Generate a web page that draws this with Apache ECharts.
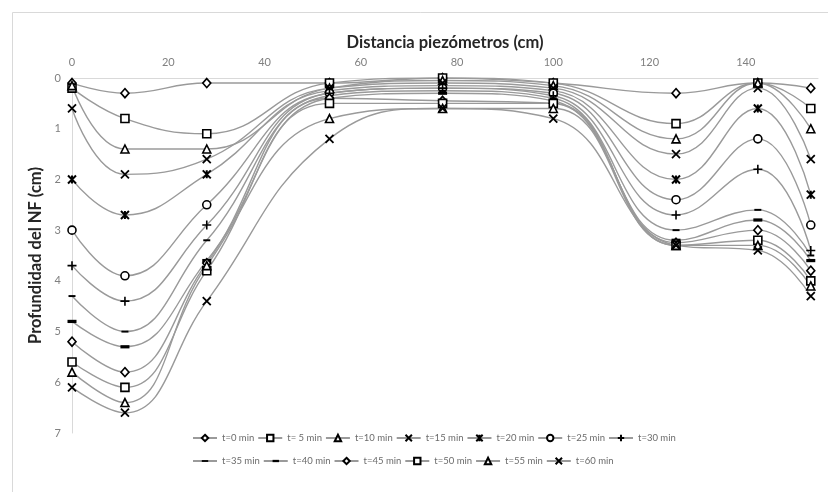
<!DOCTYPE html>
<html><head><meta charset="utf-8">
<script src="https://cdn.jsdelivr.net/npm/echarts@6/dist/echarts.min.js"></script>
<style>html,body{margin:0;padding:0;background:#fff}#c{width:828px;height:492px}</style>
</head><body><div id="c"></div>
<script>
var distances = [0, 11, 28, 53.5, 77, 100, 125.5, 142.5, 153.5];
var seriesNames = ['t=0 min','t= 5 min','t=10 min','t=15 min','t=20 min','t=25 min','t=30 min','t=35 min','t=40 min','t=45 min','t=50 min','t=55 min','t=60 min'];
var t0  = [0.1, 0.3, 0.1, 0.1, 0.0, 0.1, 0.3, 0.1, 0.2];
var t5  = [0.2, 0.8, 1.1, 0.1, 0.0, 0.1, 0.9, 0.1, 0.6];
var t10 = [0.15, 1.4, 1.4, 0.2, 0.05, 0.15, 1.2, 0.1, 1.0];
var t15 = [0.6, 1.9, 1.6, 0.2, 0.1, 0.2, 1.5, 0.2, 1.6];
var t20 = [2.0, 2.7, 1.9, 0.25, 0.15, 0.25, 2.0, 0.6, 2.3];
var t25 = [3.0, 3.9, 2.5, 0.3, 0.2, 0.3, 2.4, 1.2, 2.9];
var t30 = [3.7, 4.4, 2.9, 0.3, 0.2, 0.35, 2.7, 1.8, 3.4];
var t35 = [4.3, 5.0, 3.2, 0.35, 0.25, 0.4, 3.0, 2.6, 3.5];
var t40 = [4.8, 5.3, 3.6, 0.4, 0.3, 0.45, 3.2, 2.8, 3.6];
var t45 = [5.2, 5.8, 3.65, 0.4, 0.45, 0.5, 3.25, 3.0, 3.8];
var t50 = [5.6, 6.1, 3.8, 0.5, 0.5, 0.5, 3.3, 3.2, 4.0];
var t55 = [5.8, 6.4, 3.7, 0.8, 0.6, 0.6, 3.3, 3.3, 4.1];
var t60 = [6.1, 6.6, 4.4, 1.2, 0.6, 0.8, 3.3, 3.4, 4.3];
var xTicks = [0, 20, 40, 60, 80, 100, 120, 140];
var yTicks = [0, 1, 2, 3, 4, 5, 6, 7];

var values = [t0,t5,t10,t15,t20,t25,t30,t35,t40,t45,t50,t55,t60];
var SYM_X = 'path://M0,0L10,10M10,0L0,10';
var SYM_STAR = 'path://M0,0L10,10M10,0L0,10M5,0L5,10';
var SYM_PLUS = 'path://M5,0L5,10M0,5L10,5';
var SYM_DASH_S = 'path://M0,0M10,10M0,3.6L10,3.6L10,6.4L0,6.4Z';
var SYM_DASH_L = 'path://M0,0M10,10M0,3.2L10,3.2L10,6.8L0,6.8Z';
var symbols = [
  {s:'diamond', size:[8,9], fill:'#fff', bw:1.6},
  {s:'rect', size:8, fill:'#fff', bw:1.6},
  {s:'triangle', size:8, fill:'#fff', bw:1.6},
  {s:SYM_X, size:8, fill:'#fff', bw:1.8},
  {s:SYM_STAR, size:8, fill:'#fff', bw:2},
  {s:'circle', size:8, fill:'#fff', bw:1.6},
  {s:SYM_PLUS, size:9, fill:'#fff', bw:1.6},
  {s:SYM_DASH_S, size:7, fill:'#000', bw:0},
  {s:SYM_DASH_L, size:9, fill:'#000', bw:0},
  {s:'diamond', size:[8,9], fill:'#fff', bw:1.6},
  {s:'rect', size:8, fill:'#fff', bw:1.6},
  {s:'triangle', size:8, fill:'#fff', bw:1.6},
  {s:SYM_X, size:8, fill:'#fff', bw:1.8}
];
var font = 'Lato, "Open Sans", sans-serif';
var series = seriesNames.map(function(n, i){
  return {
    name: n, type: 'line', smooth: 0.45,
    data: distances.map(function(d, j){ return [d, values[i][j]]; }),
    symbol: symbols[i].s, symbolSize: symbols[i].size,
    lineStyle: {color: '#9a9a9a', width: 1.4},
    itemStyle: {color: symbols[i].fill, borderColor: '#000', borderWidth: symbols[i].bw},
    emphasis: {disabled: true}
  };
});
function legend(names, top){
  return {
    data: names, left: 187, top: top, orient: 'horizontal',
    itemWidth: 24, itemHeight: 8, itemGap: 3,
    textStyle: {color: '#6b6b6b', fontSize: 9.5, fontFamily: font},
    inactiveColor: '#ccc'
  };
}
var chart = echarts.init(document.getElementById('c'));
chart.setOption({
  animation: false,
  backgroundColor: '#fff',
  graphic: [{type: 'rect', shape: {x: 12.5, y: 12.5, width: 830, height: 500}, style: {fill: 'none', stroke: '#d9d9d9', lineWidth: 1}, silent: true}],
  grid: {left: 72, right: 10, top: 78, bottom: 59},
  legend: [legend(seriesNames.slice(0,7), 428), legend(seriesNames.slice(7), 451)],
  xAxis: {
    type: 'value', position: 'top', min: 0, max: 155, interval: 20,
    name: 'Distancia piezómetros (cm)', nameLocation: 'middle', nameGap: 27,
    nameTextStyle: {fontSize: 16.5, fontWeight: 'bold', color: '#262626', fontFamily: font},
    axisLine: {show: true, lineStyle: {color: '#d9d9d9'}},
    axisTick: {show: false}, splitLine: {show: false},
    axisLabel: {color: '#808080', fontSize: 11, fontFamily: font, margin: 10, showMaxLabel: false,
      formatter: function(v){ return xTicks.indexOf(v) >= 0 ? String(v) : ''; }}
  },
  yAxis: {
    type: 'value', inverse: true, min: 0, max: 7, interval: 1,
    name: 'Profundidad del NF (cm)', nameLocation: 'middle', nameGap: 23,
    nameTextStyle: {fontSize: 16.5, fontWeight: 'bold', color: '#262626', fontFamily: font},
    axisLine: {show: true, lineStyle: {color: '#d9d9d9'}},
    axisTick: {show: false}, splitLine: {show: false},
    axisLabel: {color: '#808080', fontSize: 11, fontFamily: font, margin: 11,
      formatter: function(v){ return yTicks.indexOf(v) >= 0 ? String(v) : ''; }}
  },
  series: series
});
</script></body></html>
